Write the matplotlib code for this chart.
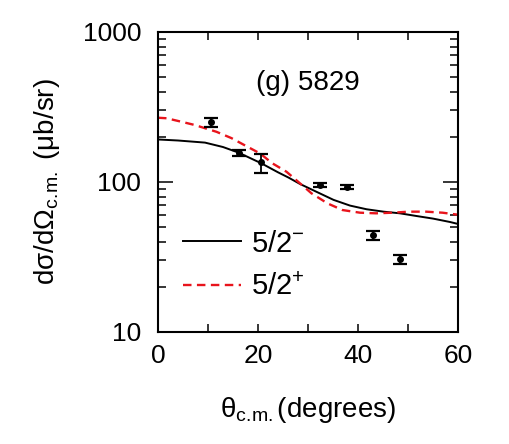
import numpy as np
import matplotlib
matplotlib.use("Agg")
import matplotlib.pyplot as plt
from matplotlib.ticker import FixedLocator, FixedFormatter, NullFormatter

plt.rcParams["font.family"] = ["Liberation Sans", "DejaVu Sans"]
plt.rcParams["mathtext.fontset"] = "custom"
plt.rcParams["mathtext.rm"] = "Liberation Sans"
plt.rcParams["mathtext.it"] = "Liberation Sans:italic"
plt.rcParams["mathtext.bf"] = "Liberation Sans:bold"

# measured points (theta in degrees, cross section in ub/sr)
theta_exp = [10.7, 16.3, 20.6, 32.4, 37.9, 43.1, 48.5]
xs_exp = [250, 157, 135, 96, 93, 44.3, 30.5]
err_lo = [17, 7, 21, 3, 3, 3.0, 2.1]
err_hi = [18, 7, 19, 3, 3, 3.0, 1.9]

# 5/2- calculation
theta_m = [0, 4, 9.4, 13, 16.1, 20.7, 24, 26.1, 28.4, 31.7, 35.1, 38.4,
           41.7, 45.1, 48.4, 51.7, 55, 58.4, 60]
xs_m = [192, 189, 183, 171, 157, 133, 116, 107, 97, 86, 76, 69.6,
        65.8, 63.4, 61.8, 59.3, 57, 54.1, 52.5]

# 5/2+ calculation
theta_p = [0, 1.7, 4.7, 7.3, 11.7, 14.7, 17.3, 20.4, 22.9, 25.7, 28.7,
           30.7, 33.9, 36.9, 40.4, 43.6, 46.9, 50.2, 53.6, 56.9, 60]
xs_p = [268, 266, 252, 240, 216, 196, 176, 155, 133, 117, 96,
        84, 72, 65, 62.4, 61.8, 62.4, 63.4, 63.4, 62.4, 60.5]

fig = plt.figure(figsize=(5.09, 4.44), dpi=100)
ax = fig.add_axes([0.3104, 0.2523, 0.5894, 0.6757])

ax.plot(theta_m, xs_m, color="black", lw=1.4, label="5/2$^{-}$")
ax.plot(theta_p, xs_p, color="#e8141c", lw=1.7, ls=(0, (3.6, 2.3)), label="5/2$^{+}$")
ax.errorbar(theta_exp, xs_exp, yerr=[err_lo, err_hi], fmt="o", color="black",
            ms=4, capsize=5, elinewidth=1.3, capthick=1.6)

ax.set_yscale("log")
ax.set_xlim(0, 60)
ax.set_ylim(10, 1000)

ax.xaxis.set_major_locator(FixedLocator([0, 20, 40, 60]))
ax.xaxis.set_minor_locator(FixedLocator([10, 30, 50]))
ax.yaxis.set_major_locator(FixedLocator([10, 100, 1000]))
ax.yaxis.set_major_formatter(FixedFormatter(["10", "100", "1000"]))
minors = [m * d for d in (10, 100) for m in range(2, 10)]
ax.yaxis.set_minor_locator(FixedLocator(minors))
ax.yaxis.set_minor_formatter(NullFormatter())

ax.tick_params(which="both", direction="in", top=True, right=True, width=1.1,
               labelsize=19)
ax.tick_params(axis="y", which="major", length=10.5, pad=12)
ax.tick_params(axis="y", which="minor", length=5.8)
ax.tick_params(axis="x", which="both", length=5.8, pad=9)
for s in ax.spines.values():
    s.set_linewidth(1.5)

sub = r"$_\mathregular{c.\!m.}$"
ax.set_xlabel("θ" + sub + "(degrees)", fontsize=20, labelpad=19)
ax.set_ylabel("dσ/dΩ" + sub + " (μb/sr)", fontsize=20)
ax.yaxis.set_label_coords(-0.32, 0.5)

ax.text(0.5, 0.83, "(g) 5829", transform=ax.transAxes, ha="center",
        va="center", fontsize=20)

ax.legend(loc="lower left", bbox_to_anchor=(0.043, 0.063), frameon=False,
          fontsize=21, handlelength=2.0, handletextpad=0.33, labelspacing=0.54,
          borderaxespad=0.0)

fig.savefig("out.png", dpi=100)
